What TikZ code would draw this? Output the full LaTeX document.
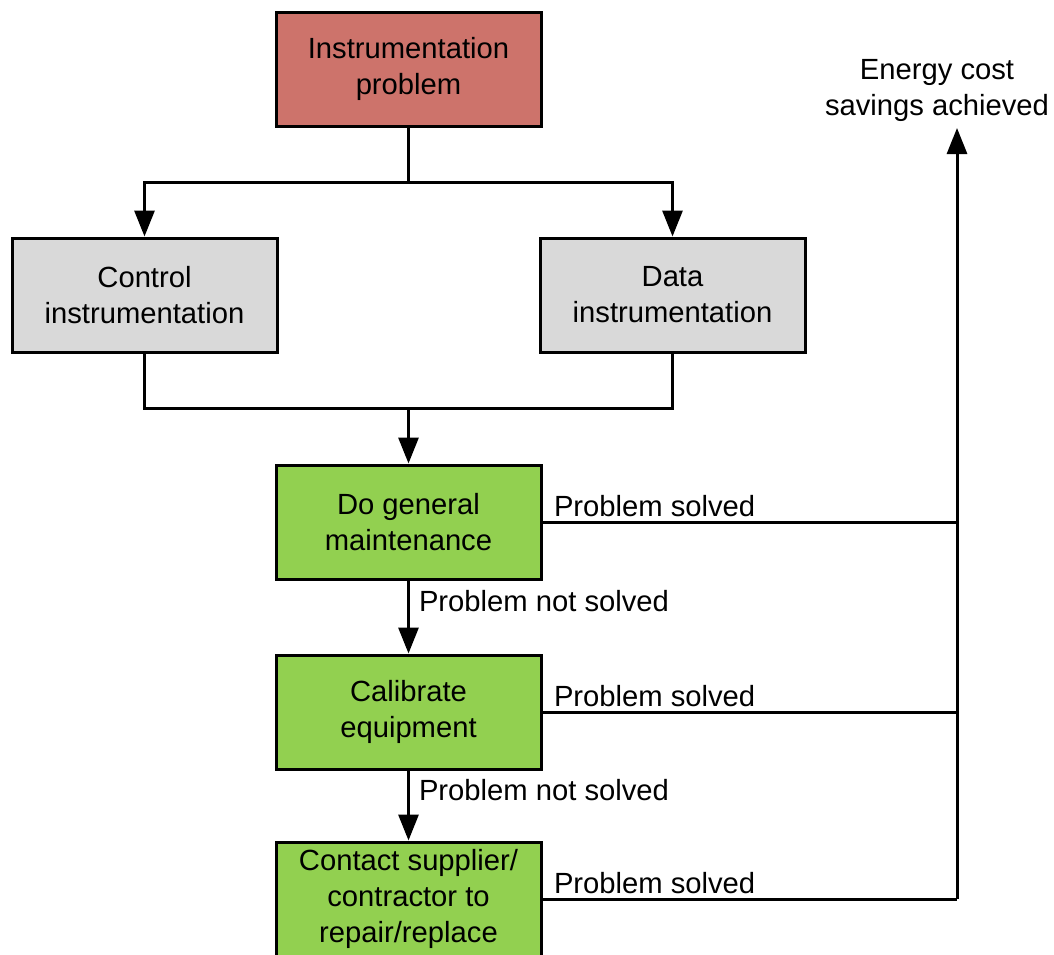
\documentclass[tikz,border=0pt]{standalone}
\usepackage{fontspec}
\setmainfont{Liberation Sans}
\usetikzlibrary{arrows.meta}
\definecolor{probred}{RGB}{205,115,107}
\definecolor{instgray}{RGB}{217,217,217}
\definecolor{stepgreen}{RGB}{146,208,80}

\begin{document}
\begin{tikzpicture}[x=0.5pt, y=-0.5pt,
    box/.style={draw, line width=1.5pt, minimum width=132.5pt, minimum height=57pt,
        align=center, inner sep=2pt, font=\fontsize{14.6}{18}\selectfont},
    line/.style={line width=1.5pt},
    arrow/.style={line width=1.5pt, -{Triangle[width=10pt,length=13pt]}},
    lbl/.style={font=\fontsize{14.6}{18}\selectfont, inner sep=0pt}]

% page frame (bottom box runs off the page)
\clip (0,0) rectangle (1054,954);

% problem and its two kinds
\node[box, fill=probred] (prob) at (408.5,69) {Instrumentation\\problem};
\node[box, fill=instgray] (ctrl) at (144.5,295) {Control\\instrumentation};
\node[box, fill=instgray] (data) at (672.5,295) {Data\\instrumentation};

% steps (green)
\node[box, fill=stepgreen] (gen) at (408.5,522) {Do general\\maintenance};
\node[box, fill=stepgreen] (cal) at (408.5,712) {Calibrate\\equipment};
\node[box, fill=stepgreen] (rep) at (408.5,899) {Contact supplier/\\contractor to\\repair/replace};

% goal on the right
\node[lbl, align=center] (saving) at (937,90) {Energy cost\\savings achieved};
\coordinate (top) at (957,128);

% split and merge
\coordinate (split) at (408.5,182);
\coordinate (merge) at (408.5,408);
\draw[line] (prob.south) -- (split);
\draw[arrow] (split) -| (ctrl.north);
\draw[arrow] (split) -| (data.north);
\draw[line] (ctrl.south) |- (merge);
\draw[line] (data.south) |- (merge);
\draw[arrow] (merge) -- (gen.north);

% not solved: go on to the next step
\draw[arrow] (gen) -- node[lbl, anchor=west, pos=0.28, xshift=4.5pt] {Problem not solved} (cal);
\draw[arrow] (cal) -- node[lbl, anchor=west, pos=0.28, xshift=4.5pt] {Problem not solved} (rep);

% solved: back to the goal
\draw[line] (gen.east) -- node[lbl, anchor=south west, pos=0, xshift=5pt, yshift=2pt] {Problem solved} (gen.east -| top);
\draw[line] (cal.east) -- node[lbl, anchor=south west, pos=0, xshift=5pt, yshift=2pt] {Problem solved} (cal.east -| top);
\draw[line] (rep.east) -- node[lbl, anchor=south west, pos=0, xshift=5pt, yshift=2pt] {Problem solved} (rep.east -| top);
\draw[arrow] (rep.east -| top) -- (top);

\end{tikzpicture}
\end{document}
